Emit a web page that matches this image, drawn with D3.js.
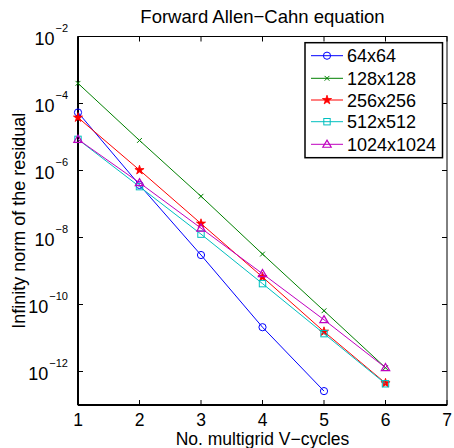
<!DOCTYPE html>
<html>
<head>
<meta charset="utf-8">
<script src="https://cdn.jsdelivr.net/npm/d3@7"></script>
<style>
  html, body { margin: 0; padding: 0; background: #fff; }
  text { font-family: "Liberation Sans", Arial, Helvetica, sans-serif; fill: #000; }
</style>
</head>
<body>
<svg id="chart" width="454" height="448"></svg>
<script>
// V-cycle counts and residual norms for each grid size
const cycles = [1, 2, 3, 4, 5, 6];
const res64   = [5.4e-5, 3.7e-7, 3.0e-9, 2.1e-11, 2.6e-13];
const res128  = [4.0e-4, 7.9e-6, 1.7e-7, 3.2e-9, 6.5e-11, 1.3e-12];
const res256  = [3.8e-5, 1.03e-6, 2.6e-8, 6.6e-10, 1.55e-11, 4.5e-13];
const res512  = [8.5e-6, 3.3e-7, 1.26e-8, 4.2e-10, 1.35e-11, 4.3e-13];
const res1024 = [8.5e-6, 4.3e-7, 1.9e-8, 8.3e-10, 3.5e-11, 1.3e-12];
const seriesNames = ["64x64", "128x128", "256x256", "512x512", "1024x1024"];
const xTicks = [1, 2, 3, 4, 5, 6, 7];
const yTickExps = [-2, -4, -6, -8, -10, -12];

const series = [
  { name: seriesNames[0], values: res64,   color: "#0000ff", marker: "circle" },
  { name: seriesNames[1], values: res128,  color: "#008000", marker: "x" },
  { name: seriesNames[2], values: res256,  color: "#ff0000", marker: "star" },
  { name: seriesNames[3], values: res512,  color: "#00bfbf", marker: "square" },
  { name: seriesNames[4], values: res1024, color: "#bf00bf", marker: "triangle" }
];

const W = 454, H = 448;
const m = { left: 78, right: 7, top: 36.5, bottom: 43 };
const svg = d3.select("#chart");

const x = d3.scaleLinear().domain([1, 7]).range([m.left, W - m.right]);
const y = d3.scaleLog().domain([1e-13, 1e-2]).range([H - m.bottom, m.top]);

const minus = "\u2212";
const tickLen = 5;

// Plot box
const x0 = x.range()[0], x1 = x.range()[1];
const yb = y.range()[0], yt = y.range()[1];
svg.append("rect")
  .attr("x", x0).attr("y", yt).attr("width", x1 - x0).attr("height", yb - yt)
  .attr("fill", "#fff").attr("stroke", "#000").attr("stroke-width", 1);

// X axis ticks (bottom and top, inward) and labels
const xAxis = svg.append("g");
xTicks.forEach(t => {
  const px = x(t);
  xAxis.append("line").attr("x1", px).attr("x2", px).attr("y1", yb).attr("y2", yb - tickLen)
    .attr("stroke", "#000").attr("stroke-width", 1);
  xAxis.append("line").attr("x1", px).attr("x2", px).attr("y1", yt).attr("y2", yt + tickLen)
    .attr("stroke", "#000").attr("stroke-width", 1);
  xAxis.append("text").attr("x", px).attr("y", yb + 21)
    .attr("text-anchor", "middle").attr("font-size", 17.5).text(t);
});

// Y axis ticks (left and right, inward) and power-of-ten labels
const yAxis = svg.append("g");
yTickExps.forEach(e => {
  const py = y(Math.pow(10, e));
  yAxis.append("line").attr("x1", x0).attr("x2", x0 + tickLen).attr("y1", py).attr("y2", py)
    .attr("stroke", "#000").attr("stroke-width", 1);
  yAxis.append("line").attr("x1", x1).attr("x2", x1 - tickLen).attr("y1", py).attr("y2", py)
    .attr("stroke", "#000").attr("stroke-width", 1);
  const lab = yAxis.append("text").attr("x", x0 - 10).attr("y", py + 8.5)
    .attr("text-anchor", "end").attr("font-size", 18);
  lab.append("tspan").text("10");
  lab.append("tspan").attr("dx", 1).attr("dy", -13).attr("font-size", 11).text(minus + Math.abs(e));
});

// Heavier left and bottom axis lines
svg.append("line").attr("x1", x0).attr("x2", x0).attr("y1", yt).attr("y2", yb)
  .attr("stroke", "#000").attr("stroke-width", 2);
svg.append("line").attr("x1", x0).attr("x2", x1).attr("y1", yb).attr("y2", yb)
  .attr("stroke", "#000").attr("stroke-width", 2);

// Marker drawing
function drawMarker(g, type, cx, cy, color) {
  const s = 3.6;
  if (type === "circle") {
    g.append("circle").attr("cx", cx).attr("cy", cy).attr("r", s)
      .attr("fill", "none").attr("stroke", color).attr("stroke-width", 1);
  } else if (type === "x") {
    const d = 2.4;
    g.append("path")
      .attr("d", `M${cx - d},${cy - d}L${cx + d},${cy + d}M${cx - d},${cy + d}L${cx + d},${cy - d}`)
      .attr("stroke", color).attr("stroke-width", 1).attr("fill", "none");
  } else if (type === "star") {
    const sym = d3.symbol().type(d3.symbolStar).size(26);
    g.append("path").attr("d", sym()).attr("transform", `translate(${cx},${cy})`)
      .attr("fill", color).attr("stroke", color).attr("stroke-width", 0.8);
  } else if (type === "square") {
    g.append("rect").attr("x", cx - 3.2).attr("y", cy - 3.2).attr("width", 6.4).attr("height", 6.4)
      .attr("fill", "none").attr("stroke", color).attr("stroke-width", 1);
  } else if (type === "triangle") {
    const r = 4.2;
    g.append("path")
      .attr("d", `M${cx},${cy - r}L${cx + r},${cy + r * 0.7}L${cx - r},${cy + r * 0.7}Z`)
      .attr("fill", "none").attr("stroke", color).attr("stroke-width", 1.2);
  }
}

// Series lines and markers
const line = d3.line().x(d => x(d[0])).y(d => y(d[1]));
const plot = svg.append("g");
series.forEach(s => {
  const pts = s.values.map((v, i) => [cycles[i], v]);
  plot.append("path").datum(pts).attr("d", line)
    .attr("fill", "none").attr("stroke", s.color).attr("stroke-width", 1);
  const mg = plot.append("g");
  pts.forEach(p => drawMarker(mg, s.marker, x(p[0]), y(p[1]), s.color));
});

// Legend
const lg = svg.append("g");
const lgX = 305, lgY = 42.7, lgW = 137.5, lgH = 115;
lg.append("rect").attr("x", lgX).attr("y", lgY).attr("width", lgW).attr("height", lgH)
  .attr("fill", "#fff").attr("stroke", "#000").attr("stroke-width", 1.5);
const rowY = [55.7, 78.3, 100, 121.7, 144.3];
series.forEach((s, i) => {
  const ry = rowY[i];
  lg.append("line").attr("x1", 311).attr("x2", 343).attr("y1", ry).attr("y2", ry)
    .attr("stroke", s.color).attr("stroke-width", 1);
  drawMarker(lg, s.marker, 327, ry, s.color);
  lg.append("text").attr("x", 347).attr("y", ry + 6.5).attr("font-size", 18).text(s.name);
});

// Title and axis labels
svg.append("text").attr("x", (x0 + x1) / 2).attr("y", 23)
  .attr("text-anchor", "middle").attr("font-size", 18.5).text("Forward Allen" + minus + "Cahn equation");
svg.append("text").attr("x", (x0 + x1) / 2).attr("y", 445)
  .attr("text-anchor", "middle").attr("font-size", 17.5).text("No. multigrid V" + minus + "cycles");
svg.append("text")
  .attr("transform", `translate(25,${(yt + yb) / 2}) rotate(-90)`)
  .attr("text-anchor", "middle").attr("font-size", 18).text("Infinity norm of the residual");
</script>
</body>
</html>
